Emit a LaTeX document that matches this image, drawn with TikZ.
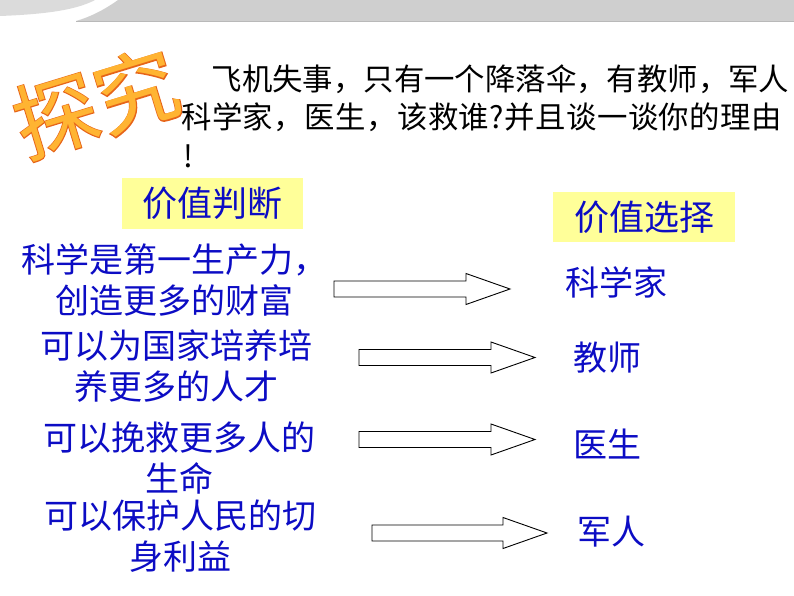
\documentclass[tikz,border=0pt]{standalone}
\usepackage{fontspec}
\setmainfont{Noto Sans CJK SC}
\usetikzlibrary{calc}

\definecolor{txtblue}{RGB}{12,12,196}
\definecolor{boxyellow}{RGB}{255,255,153}
\definecolor{wordedge}{RGB}{230,100,25}
\definecolor{wordfill}{RGB}{255,180,50}

\begin{document}
\begin{tikzpicture}[x=1pt,y=-1pt,
  question/.style={anchor=west,inner sep=0pt,font=\fontsize{30.4}{36}\selectfont},
  heading/.style={fill=boxyellow,text=txtblue,inner sep=0pt,font=\fontsize{35}{40}\selectfont},
  reason/.style={text=txtblue,align=center,inner sep=0pt,font=\fontsize{34}{41}\selectfont},
  choice/.style={text=txtblue,anchor=west,inner sep=0pt,font=\fontsize{34}{40}\selectfont},
  blockarrow/.style={draw=black,fill=white,line width=0.9pt,line join=miter}]
\useasboundingbox (0,0) rectangle (794,596);
% top band
\fill[gray!28] (0,0) -- (95,0) .. controls (80,8) and (55,14) .. (0,16) -- cycle;
\fill[gray!38] (118,0) .. controls (104,10) and (90,17) .. (76,21) -- (794,21) -- (794,0) -- cycle;
\draw[gray!55] (76,21.5) -- (794,21.5);
% word art
\node[rotate=17,text=wordedge,font=\fontsize{84}{84}\selectfont\addfontfeature{FakeBold=2}] (artedge) at (96,103) {探究};
\node[rotate=17,text=wordfill,font=\fontsize{84}{84}\selectfont] (art) at (96,103) {探究};
% question
\node[question] (q1) at (181,79) {　飞机失事，只有一个降落伞，有教师，军人};
\node[question,font=\fontsize{30.4}{36}\selectfont\addfontfeature{LetterSpace=1.5}] (q2) at (181,117) {科学家，医生，该救谁?并且谈一谈你的理由};
\node[question] (q3) at (183,156) {!};
% headings
\node[heading,minimum width=181,minimum height=51] (judge) at (212.5,203.5) {价值判断};
\node[heading,minimum width=182,minimum height=50] (select) at (644,217) {价值选择};
% reasons
\node[reason] (r1) at (174,280) {科学是第一生产力，\\创造更多的财富};
\node[reason] (r2) at (176,366) {可以为国家培养培\\养更多的人才};
\node[reason] (r3) at (179,458) {可以挽救更多人的\\生命};
\node[reason] (r4) at (180,536) {可以保护人民的切\\身利益};
% choices
\node[choice] (c1) at (565,282) {科学家};
\node[choice] (c2) at (573,358) {教师};
\node[choice] (c3) at (573,444) {医生};
\node[choice] (c4) at (577,532) {军人};
% arrows
\coordinate (tail1) at (334,289);
\coordinate (tip1) at (510,289);
\coordinate (tail2) at (359,357.5);
\coordinate (tip2) at (535,357.5);
\coordinate (tail3) at (359,439.5);
\coordinate (tip3) at (535,439.5);
\coordinate (tail4) at (372,533);
\coordinate (tip4) at (547,533);
\foreach \n in {1,...,4}
  \draw[blockarrow] ($(tail\n)+(0,-8)$) -- ($(tip\n)+(-44,-8)$) -- ($(tip\n)+(-44,-15.5)$)
    -- (tip\n) -- ($(tip\n)+(-44,15.5)$) -- ($(tip\n)+(-44,8)$) -- ($(tail\n)+(0,8)$) -- cycle;
\end{tikzpicture}
\end{document}
